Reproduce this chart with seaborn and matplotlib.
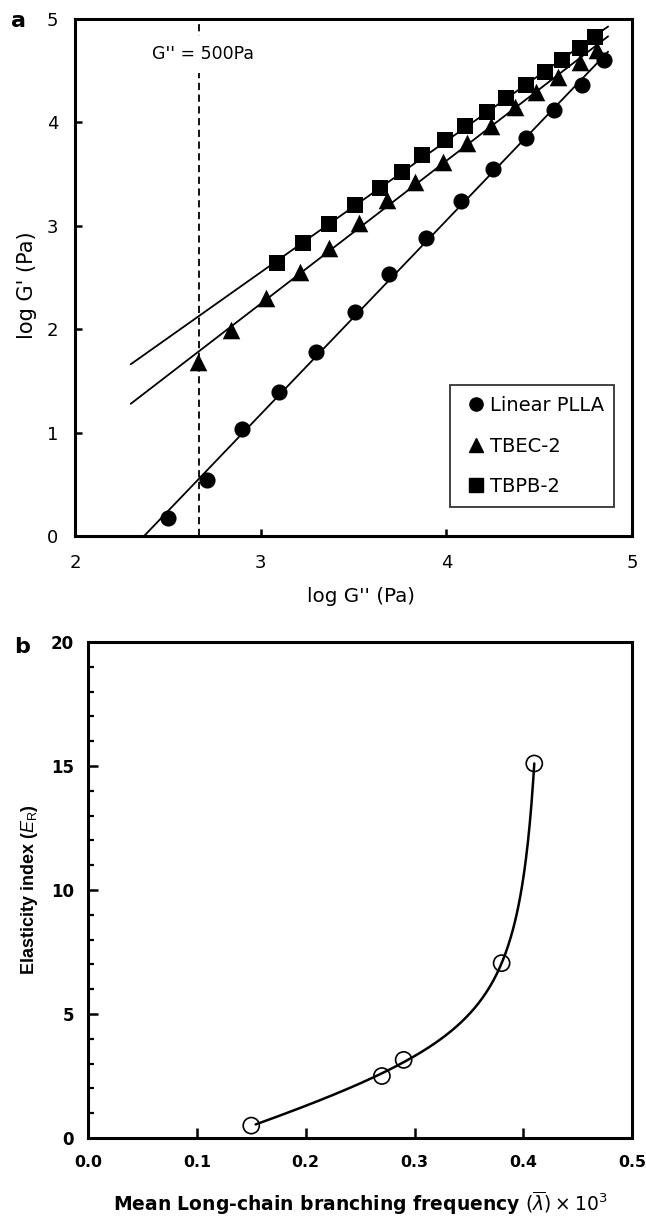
import matplotlib
matplotlib.use("Agg")
import matplotlib.pyplot as plt
from matplotlib.lines import Line2D
import numpy as np
import seaborn as sns

# panel a: log G' against log G'' (Pa)
PLLA_X = [2.50, 2.71, 2.90, 3.10, 3.30, 3.51, 3.69, 3.89, 4.08, 4.25, 4.43, 4.58, 4.73, 4.85]
PLLA_Y = [0.17, 0.54, 1.03, 1.39, 1.78, 2.17, 2.53, 2.88, 3.24, 3.55, 3.85, 4.12, 4.36, 4.60]
TBEC_X = [2.66, 2.84, 3.03, 3.21, 3.37, 3.53, 3.68, 3.83, 3.98, 4.11, 4.24, 4.37, 4.48, 4.60, 4.72, 4.81]
TBEC_Y = [1.68, 1.99, 2.30, 2.55, 2.79, 3.03, 3.25, 3.42, 3.62, 3.80, 3.97, 4.15, 4.29, 4.44, 4.58, 4.70]
TBPB_X = [3.09, 3.23, 3.37, 3.51, 3.64, 3.76, 3.87, 3.99, 4.10, 4.22, 4.32, 4.43, 4.53, 4.62, 4.72, 4.80]
TBPB_Y = [2.64, 2.83, 3.02, 3.20, 3.37, 3.52, 3.68, 3.83, 3.97, 4.10, 4.24, 4.36, 4.49, 4.60, 4.72, 4.83]
SERIES_NAMES = ["Linear PLLA", "TBEC-2", "TBPB-2"]
G2_REF = 2.67  # log10 of G'' = 500 Pa as drawn

# panel b: elasticity index against mean LCB frequency
LCB_X = [0.15, 0.27, 0.29, 0.38, 0.41]
ER_Y = [0.5, 2.5, 3.15, 7.05, 15.1]

FIT_START = 2.3
FIT_END = 4.87

WIDE = ["DejaVu Sans"]
NARROW = ["Liberation Sans", "DejaVu Sans"]

sns.set_theme(style="ticks")
plt.rcParams["font.family"] = WIDE
plt.rcParams.update({
    "text.color": "black",
    "axes.labelcolor": "black",
    "xtick.color": "black",
    "ytick.color": "black",
    "mathtext.fontset": "dejavusans",
    "mathtext.rm": "Liberation Sans",
    "mathtext.it": "Liberation Sans:italic",
    "mathtext.bf": "Liberation Sans:bold",
})

fig = plt.figure(figsize=(6.46, 12.2), dpi=100)
ax_a = fig.add_axes([0.1161, 0.5607, 0.8626, 0.4237])
ax_b = fig.add_axes([0.1362, 0.0672, 0.8425, 0.4066])


def _frame(ax, width=2.2):
    for side in ["top", "right", "bottom", "left"]:
        ax.spines[side].set_visible(True)
        ax.spines[side].set_linewidth(width)
        ax.spines[side].set_color("black")


# ---- panel a
series = [
    (PLLA_X, PLLA_Y, "o", 135),
    (TBEC_X, TBEC_Y, "^", 160),
    (TBPB_X, TBPB_Y, "s", 125),
]
handles = []
for (xs, ys, marker, size), name in zip(series, SERIES_NAMES):
    slope, intercept = np.polyfit(xs, ys, 1)
    start = max(FIT_START, -intercept / slope)
    line_x = np.linspace(start, FIT_END, 50)
    sns.lineplot(x=line_x, y=slope * line_x + intercept, color="black", linewidth=1.3, ax=ax_a, zorder=2)
    sns.scatterplot(x=xs, y=ys, marker=marker, s=size, color="black", edgecolor="black", linewidth=0, ax=ax_a, zorder=3)
    handles.append(Line2D([], [], marker=marker, color="black", linestyle="none", markersize=9.5 if marker != "^" else 10.5))

ax_a.axvline(G2_REF, color="black", linewidth=1.3, linestyle=(0, (4, 2.5)), zorder=1)
ax_a.text(G2_REF + 0.02, 4.66, "G'' = 500Pa", ha="center", va="center", fontsize=12.5,
          bbox=dict(boxstyle="square,pad=0.55", facecolor="white", edgecolor="none"), zorder=2)

ax_a.set_xlim(2, 5)
ax_a.set_ylim(0, 5)
ax_a.set_xticks([2, 3, 4, 5])
ax_a.set_yticks([0, 1, 2, 3, 4, 5])
ax_a.tick_params(direction="in", length=5, width=1.8, labelsize=13)
ax_a.tick_params(axis="x", pad=13)
ax_a.tick_params(axis="y", pad=12)
ax_a.set_xlabel("log G'' (Pa)", fontsize=14.3, labelpad=11)
ax_a.set_ylabel("log G' (Pa)", fontsize=15, labelpad=7)
ax_a.xaxis.label.set_x(0.514)
ax_a.yaxis.label.set_y(0.485)
_frame(ax_a)
leg = ax_a.legend(handles, SERIES_NAMES, loc="lower right", bbox_to_anchor=(0.968, 0.056), fontsize=14,
                  frameon=True, fancybox=False, edgecolor="black", handletextpad=-0.1, handlelength=1.6,
                  labelspacing=1.12, borderpad=0.55, borderaxespad=0)
leg.get_frame().set_linewidth(1.3)
fig.text(0.029, 0.983, "a", fontsize=16, fontweight="bold", va="center", ha="center")

# ---- panel b: hyperbolic-plus-linear trend fitted to the points
lx = np.array(LCB_X)
ly = np.array(ER_Y)
best = None
for c in np.linspace(lx.max() + 0.003, 0.6, 600):
    design = np.column_stack([np.ones_like(lx), lx, 1.0 / (c - lx)])
    coef, *_ = np.linalg.lstsq(design, ly, rcond=None)
    err = np.sum((design @ coef - ly) ** 2)
    if best is None or err < best[0]:
        best = (err, c, coef)
_, c_best, coef = best
curve_x = np.linspace(lx.min() + 0.004, lx.max(), 300)
curve_y = coef[0] + coef[1] * curve_x + coef[2] / (c_best - curve_x)
sns.lineplot(x=curve_x, y=curve_y, color="black", linewidth=1.8, ax=ax_b, zorder=2)
sns.scatterplot(x=LCB_X, y=ER_Y, marker="o", s=135, facecolor="none", edgecolor="black", linewidth=1.2, ax=ax_b, zorder=3)

ax_b.set_xlim(0, 0.5)
ax_b.set_ylim(0, 20)
ax_b.set_xticks(np.arange(0, 0.51, 0.1))
ax_b.set_xticklabels([f"{v:.1f}" for v in np.arange(0, 0.51, 0.1)])
ax_b.set_yticks([0, 5, 10, 15, 20])
ax_b.set_yticks(np.arange(0, 21, 1), minor=True)
ax_b.tick_params(axis="both", which="major", direction="in", length=7, width=1.8)
ax_b.tick_params(axis="x", which="major", pad=12, labelsize=11.3)
ax_b.tick_params(axis="y", which="major", pad=10, labelsize=12)
ax_b.tick_params(axis="y", which="minor", direction="in", length=4, width=1.6)
for lab in ax_b.get_xticklabels() + ax_b.get_yticklabels():
    lab.set_fontweight("bold")
ax_b.set_xlabel(r"Mean Long-chain branching frequency $(\overline{\mathit{\lambda}})\times10^{3}$",
                fontsize=13.5, fontweight="bold", labelpad=14)
yl = ax_b.set_ylabel(r"Elasticity index ($\mathit{E}_\mathrm{R}$)", fontsize=13, fontweight="bold",
                     labelpad=8, family=NARROW)
yl.set_math_fontfamily("custom")
_frame(ax_b)
fig.text(0.034, 0.47, "b", fontsize=16, fontweight="bold", va="center", ha="center")

fig.savefig("out.png", dpi=100, facecolor="white")
